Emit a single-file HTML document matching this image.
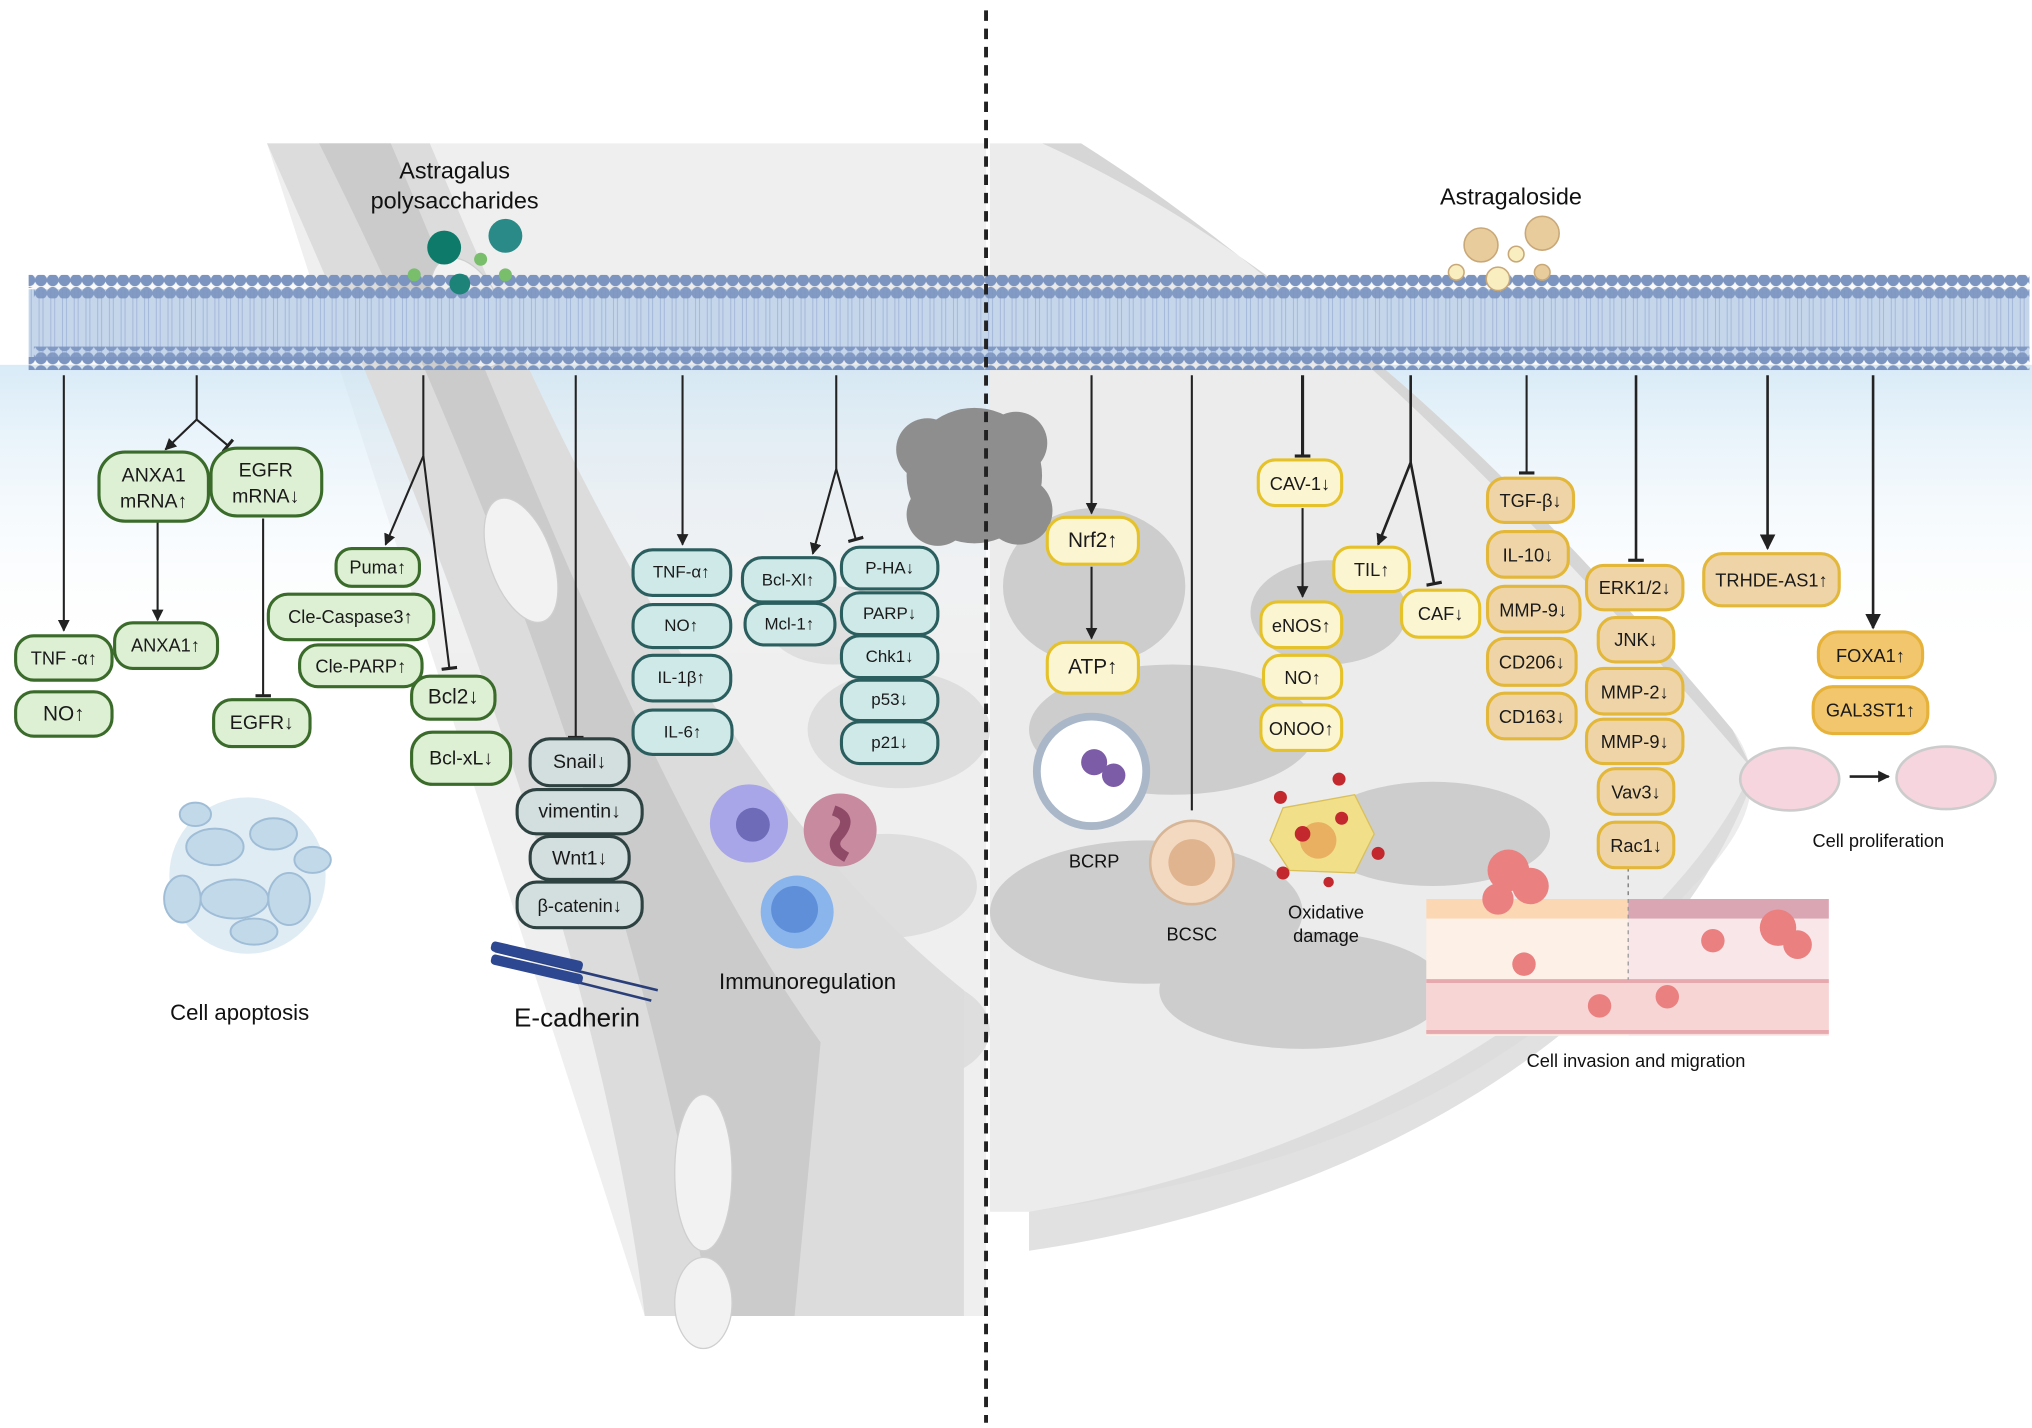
<!DOCTYPE html>
<html><head><meta charset="utf-8">
<style>
html,body{margin:0;padding:0;background:#fff;}
svg{display:block;}
text{font-family:"Liberation Sans",sans-serif;}
</style></head>
<body>
<svg width="2032" height="1428" viewBox="0 0 1560 1096" preserveAspectRatio="none" xmlns="http://www.w3.org/2000/svg">
<defs>
<linearGradient id="sky" x1="0" y1="0" x2="0" y2="1">
<stop offset="0" stop-color="#cfe6f5"/><stop offset="1" stop-color="#ffffff" stop-opacity="0"/>
</linearGradient>
<pattern id="beads" x="0" y="0" width="9" height="10" patternUnits="userSpaceOnUse">
<circle cx="4.5" cy="5" r="4.6" fill="#6f8bbd"/>
</pattern>
<pattern id="tails" x="0" y="0" width="9" height="30" patternUnits="userSpaceOnUse">
<rect width="9" height="30" fill="#c3d6ee"/>
<line x1="3" y1="0" x2="3" y2="30" stroke="#9fb6dc" stroke-width="0.8"/>
<line x1="6" y1="0" x2="6" y2="30" stroke="#9fb6dc" stroke-width="0.8"/>
</pattern>
<marker id="ar" viewBox="0 0 10 10" refX="9" refY="5" markerWidth="9" markerHeight="9" orient="auto" markerUnits="userSpaceOnUse">
<path d="M0,0 L10,5 L0,10 z" fill="#222"/></marker>
<marker id="ar2" viewBox="0 0 10 10" refX="9" refY="5" markerWidth="12" markerHeight="12" orient="auto" markerUnits="userSpaceOnUse">
<path d="M0,0 L10,5 L0,10 z" fill="#222"/></marker>
<marker id="tb" viewBox="0 0 10 10" refX="5" refY="5" markerWidth="12" markerHeight="12" orient="auto" markerUnits="userSpaceOnUse">
<line x1="5" y1="0" x2="5" y2="10" stroke="#222" stroke-width="2"/></marker>
</defs>

<!-- background tissue -->
<path d="M205,110 L757,110 L757,1010 L495,1010 Z" fill="#efefef"/>
<g fill="#dedede">
<ellipse cx="690" cy="560" rx="70" ry="45"/><ellipse cx="680" cy="680" rx="70" ry="40"/><ellipse cx="700" cy="790" rx="60" ry="40"/><ellipse cx="640" cy="480" rx="50" ry="30"/>
</g>
<rect x="0" y="280" width="1560" height="230" fill="url(#sky)" opacity="0.8"/>
<!-- right breast region -->
<path d="M800,110 C1000,200 1180,380 1330,560 C1360,600 1340,640 1300,680 C1160,840 1000,900 790,930 L760,930 L760,110 Z" fill="#ececec"/>
<path d="M800,110 C1000,200 1180,380 1330,560 L1345,590 C1200,420 1020,230 830,110 Z" fill="#d6d6d6"/>
<path d="M1345,590 C1300,700 1100,880 790,930 L790,960 C1060,920 1280,780 1345,600 Z" fill="#d9d9d9" opacity="0.8"/>
<g fill="#cdcdcd">
<ellipse cx="900" cy="560" rx="110" ry="50"/><ellipse cx="880" cy="700" rx="120" ry="55"/>
<ellipse cx="1000" cy="760" rx="110" ry="45"/><ellipse cx="1100" cy="640" rx="90" ry="40"/>
<ellipse cx="840" cy="450" rx="70" ry="60"/><ellipse cx="1020" cy="470" rx="60" ry="40"/>
</g>
<!-- left tissue band -->
<path d="M205,110 L330,110 C410,300 540,600 740,760 L740,1010 L495,1010 C470,800 380,500 205,110 Z" fill="#dcdcdc"/>
<path d="M245,110 L300,110 C390,320 500,620 630,800 L610,1010 L545,1010 C515,800 425,470 245,110 Z" fill="#cbcbcb"/>
<g fill="#f2f2f2" stroke="#cfcfcf">
<ellipse cx="400" cy="430" rx="24" ry="50" transform="rotate(-20 400 430)"/>
<ellipse cx="540" cy="900" rx="22" ry="60"/><ellipse cx="540" cy="1000" rx="22" ry="35"/>
<ellipse cx="360" cy="240" rx="25" ry="45" transform="rotate(-25 360 240)"/>
</g>
<!-- tumor blob -->
<g fill="#8e8e8e">
<circle cx="748" cy="365" r="52"/><circle cx="712" cy="345" r="24"/><circle cx="780" cy="340" r="24"/><circle cx="720" cy="395" r="24"/><circle cx="782" cy="392" r="26"/>
</g>

<!-- membrane -->
<rect x="22" y="222" width="1536" height="52" fill="url(#tails)"/>
<rect x="22" y="211" width="1536" height="10" fill="url(#beads)"/>
<rect x="26" y="219" width="1532" height="10" fill="url(#beads)" opacity="0.9"/>
<rect x="26" y="266" width="1532" height="10" fill="url(#beads)" opacity="0.9"/>
<rect x="22" y="274" width="1536" height="10" fill="url(#beads)"/>
<rect x="22" y="211" width="1536" height="73" fill="#d8d8d8" opacity="0.12"/>

<!-- dashed divider -->
<line x1="757" y1="8" x2="757" y2="1092" stroke="#222" stroke-width="3" stroke-dasharray="8,6"/>

<!-- ligand dots -->
<circle cx="341" cy="190" r="13" fill="#0e7a6a"/><circle cx="388" cy="181" r="13" fill="#2a8a88"/>
<circle cx="353" cy="218" r="8" fill="#1d8277"/><circle cx="318" cy="211" r="5" fill="#79be6b"/>
<circle cx="369" cy="199" r="5" fill="#79be6b"/><circle cx="388" cy="211" r="5" fill="#79be6b"/>
<g stroke="#c9a878" stroke-width="1.2">
<circle cx="1137" cy="188" r="13" fill="#e8cc9c"/><circle cx="1184" cy="179" r="13" fill="#e8cc9c"/>
<circle cx="1150" cy="214" r="9" fill="#f8eec0"/><circle cx="1118" cy="209" r="6" fill="#f8eec0"/>
<circle cx="1164" cy="195" r="6" fill="#f8eec0"/><circle cx="1184" cy="209" r="6" fill="#e8cc9c"/>
</g>

<!-- titles -->
<g font-size="18" fill="#111" text-anchor="middle">
<text x="349" y="137">Astragalus</text><text x="349" y="160">polysaccharides</text>
<text x="1160" y="157">Astragaloside</text>
<text x="184" y="783" font-size="17">Cell apoptosis</text>
<text x="443" y="788" font-size="20">E-cadherin</text>
<text x="620" y="759" font-size="17">Immunoregulation</text>
<text x="840" y="666" font-size="14">BCRP</text>
<text x="915" y="722" font-size="14">BCSC</text>
<text x="1018" y="705" font-size="14">Oxidative</text><text x="1018" y="723" font-size="14">damage</text>
<text x="1256" y="819" font-size="14">Cell invasion and migration</text>
<text x="1442" y="650" font-size="14">Cell proliferation</text>
</g>

<!-- connectors -->
<g stroke="#222" stroke-width="1.6" fill="none">
<line x1="49" y1="288" x2="49" y2="484" marker-end="url(#ar)"/>
<polyline points="151,288 151,322 127,345" marker-end="url(#ar)"/>
<polyline points="151,322 175,342" marker-end="url(#tb)"/>
<line x1="121" y1="400" x2="121" y2="476" marker-end="url(#ar)"/>
<line x1="202" y1="398" x2="202" y2="534" marker-end="url(#tb)"/>
<polyline points="325,288 325,350 296,418" marker-end="url(#ar)"/>
<polyline points="325,350 345,513" marker-end="url(#tb)"/>
<line x1="442" y1="288" x2="442" y2="566" marker-end="url(#tb)"/>
<line x1="524" y1="288" x2="524" y2="418" marker-end="url(#ar)"/>
<polyline points="642,288 642,360 624,425" marker-end="url(#ar)"/>
<polyline points="642,360 657,414" marker-end="url(#tb)"/>
<line x1="838" y1="288" x2="838" y2="394" marker-end="url(#ar)"/>
<line x1="838" y1="435" x2="838" y2="490" marker-end="url(#ar)"/>
<line x1="915" y1="288" x2="915" y2="622"/>
<line x1="1000" y1="288" x2="1000" y2="350" stroke-width="2.4" marker-end="url(#tb)"/>
<line x1="1000" y1="390" x2="1000" y2="458" marker-end="url(#ar)"/>
<polyline points="1083,288 1083,355 1058,418" stroke-width="2" marker-end="url(#ar)"/>
<polyline points="1083,355 1101,448" stroke-width="2" marker-end="url(#tb)"/>
<line x1="1172" y1="288" x2="1172" y2="363" marker-end="url(#tb)"/>
<line x1="1256" y1="288" x2="1256" y2="430" stroke-width="2" marker-end="url(#tb)"/>
<line x1="1357" y1="288" x2="1357" y2="421" stroke-width="2" marker-end="url(#ar2)"/>
<line x1="1438" y1="288" x2="1438" y2="482" stroke-width="2" marker-end="url(#ar2)"/>
<line x1="1250" y1="666" x2="1250" y2="760" stroke="#777" stroke-width="1" stroke-dasharray="3,3"/>
</g>

<!-- illustrations -->
<g opacity="0.85">
<g fill="#b8d3e6" stroke="#8fb2cf" stroke-width="1.5">
<circle cx="190" cy="672" r="60" fill="#dbe9f3" stroke="none"/>
<ellipse cx="165" cy="650" rx="22" ry="14"/><ellipse cx="210" cy="640" rx="18" ry="12"/>
<ellipse cx="180" cy="690" rx="26" ry="15"/><ellipse cx="222" cy="690" rx="16" ry="20"/>
<ellipse cx="140" cy="690" rx="14" ry="18"/><ellipse cx="195" cy="715" rx="18" ry="10"/>
<ellipse cx="240" cy="660" rx="14" ry="10"/><ellipse cx="150" cy="625" rx="12" ry="9"/>
</g></g>
<g>
<path d="M380,730 L505,760" stroke="#2a3f7a" stroke-width="2"/><path d="M380,738 L500,768" stroke="#2a3f7a" stroke-width="2"/>
<g fill="#2d4790"><rect x="378" y="722" width="72" height="8" rx="3" transform="rotate(13 378 722)"/><rect x="378" y="732" width="72" height="8" rx="3" transform="rotate(13 378 732)"/></g>
</g>
<circle cx="575" cy="632" r="30" fill="#a8a6e8"/><circle cx="578" cy="633" r="13" fill="#6e6bb8"/>
<circle cx="645" cy="637" r="28" fill="#c78a9e"/><path d="M640,622 q15,5 5,18 q-10,10 5,18" stroke="#8e4a66" stroke-width="8" fill="none"/>
<circle cx="612" cy="700" r="28" fill="#8ab4ec"/><circle cx="610" cy="698" r="18" fill="#5e8fd8"/>
<circle cx="838" cy="592" r="42" fill="#fff" stroke="#a9b7c9" stroke-width="6"/>
<circle cx="840" cy="585" r="10" fill="#7c5ca6"/><circle cx="855" cy="595" r="9" fill="#7c5ca6"/>
<circle cx="915" cy="662" r="32" fill="#f4d9c1" stroke="#d7b697" stroke-width="2"/><circle cx="915" cy="662" r="18" fill="#e0b48f"/>
<path d="M985,620 L1040,610 L1055,640 L1040,670 L990,668 L975,645 Z" fill="#f2df8a" stroke="#d9c05a"/>
<circle cx="1012" cy="645" r="14" fill="#e8b060"/>
<g fill="#c2282d"><circle cx="983" cy="612" r="5"/><circle cx="1028" cy="598" r="5"/><circle cx="1058" cy="655" r="5"/><circle cx="985" cy="670" r="5"/><circle cx="1020" cy="677" r="4"/><circle cx="1030" cy="628" r="5"/><circle cx="1000" cy="640" r="6"/></g>
<!-- invasion panel -->
<rect x="1095" y="690" width="155" height="105" fill="#fdf0e6"/>
<rect x="1250" y="690" width="154" height="105" fill="#f9e6e8"/>
<rect x="1095" y="690" width="155" height="15" fill="#fbd7b4"/>
<rect x="1250" y="690" width="154" height="15" fill="#dba6b4"/>
<rect x="1095" y="752" width="309" height="42" fill="#f7d5d5"/>
<line x1="1095" y1="753" x2="1404" y2="753" stroke="#e6a9ad" stroke-width="3"/>
<line x1="1095" y1="792" x2="1404" y2="792" stroke="#e6a9ad" stroke-width="3"/>
<line x1="1250" y1="690" x2="1250" y2="752" stroke="#999" stroke-dasharray="3,3"/>
<g fill="#ea8080"><circle cx="1158" cy="668" r="16"/><circle cx="1175" cy="680" r="14"/><circle cx="1150" cy="690" r="12"/><circle cx="1170" cy="740" r="9"/><circle cx="1228" cy="772" r="9"/><circle cx="1280" cy="765" r="9"/><circle cx="1315" cy="722" r="9"/><circle cx="1365" cy="712" r="14"/><circle cx="1380" cy="725" r="11"/></g>
<ellipse cx="1374" cy="598" rx="38" ry="24" fill="#f7d5de" stroke="#ccc" stroke-width="2"/>
<ellipse cx="1494" cy="597" rx="38" ry="24" fill="#f7d5de" stroke="#ccc" stroke-width="2"/>
<line x1="1420" y1="596" x2="1450" y2="596" stroke="#222" stroke-width="2" marker-end="url(#ar)"/>

<!-- boxes -->
<g font-size="14" text-anchor="middle" dominant-baseline="central" fill="#1a1a1a" stroke-width="2.4">
<g stroke="#3a6b2a">
<rect x="12" y="488" width="74" height="34" rx="14" fill="#ddf0d4"/>
<rect x="12" y="531" width="74" height="34" rx="14" fill="#ddf0d4"/>
<rect x="76" y="347" width="84" height="53" rx="20" fill="#ddf0d4"/>
<rect x="162" y="344" width="85" height="52" rx="20" fill="#ddf0d4"/>
<rect x="88" y="478" width="79" height="35" rx="14" fill="#ddf0d4"/>
<rect x="164" y="537" width="74" height="36" rx="14" fill="#ddf0d4"/>
<rect x="258" y="421" width="64" height="29" rx="12" fill="#ddf0d4"/>
<rect x="206" y="456" width="127" height="35" rx="15" fill="#ddf0d4"/>
<rect x="230" y="495" width="94" height="32" rx="14" fill="#ddf0d4"/>
<rect x="316" y="519" width="64" height="33" rx="14" fill="#ddf0d4"/>
<rect x="316" y="562" width="76" height="40" rx="16" fill="#ddf0d4"/>
</g>
<g stroke="none">
<text x="49" y="505">TNF -α↑</text><text x="49" y="548" font-size="16">NO↑</text>
<text x="118" y="365" font-size="15">ANXA1</text><text x="118" y="385" font-size="15">mRNA↑</text>
<text x="204" y="361" font-size="15">EGFR</text><text x="204" y="381" font-size="15">mRNA↓</text>
<text x="127" y="495">ANXA1↑</text><text x="201" y="555" font-size="15">EGFR↓</text>
<text x="290" y="435">Puma↑</text><text x="269" y="473">Cle-Caspase3↑</text>
<text x="277" y="511">Cle-PARP↑</text><text x="348" y="535" font-size="16">Bcl2↓</text>
<text x="354" y="582" font-size="15">Bcl-xL↓</text>
</g>
<g stroke="#2b5e5e">
<rect x="486" y="422" width="75" height="35" rx="15" fill="#cfe9e8"/>
<rect x="486" y="464" width="75" height="33" rx="15" fill="#cfe9e8"/>
<rect x="486" y="503" width="75" height="35" rx="15" fill="#cfe9e8"/>
<rect x="486" y="545" width="76" height="34" rx="15" fill="#cfe9e8"/>
<rect x="570" y="428" width="71" height="34" rx="15" fill="#cfe9e8"/>
<rect x="572" y="463" width="69" height="32" rx="15" fill="#cfe9e8"/>
<rect x="646" y="420" width="74" height="32" rx="14" fill="#cfe9e8"/>
<rect x="646" y="455" width="74" height="32" rx="14" fill="#cfe9e8"/>
<rect x="646" y="488" width="74" height="32" rx="14" fill="#cfe9e8"/>
<rect x="646" y="522" width="74" height="31" rx="14" fill="#cfe9e8"/>
<rect x="646" y="554" width="74" height="32" rx="14" fill="#cfe9e8"/>
</g>
<g stroke="none" font-size="13">
<text x="523" y="439">TNF-α↑</text><text x="523" y="480">NO↑</text><text x="523" y="520">IL-1β↑</text><text x="524" y="562">IL-6↑</text>
<text x="605" y="445">Bcl-Xl↑</text><text x="606" y="479">Mcl-1↑</text>
<text x="683" y="436">P-HA↓</text><text x="683" y="471">PARP↓</text><text x="683" y="504">Chk1↓</text><text x="683" y="537">p53↓</text><text x="683" y="570">p21↓</text>
</g>
<g stroke="#2f4242">
<rect x="407" y="567" width="76" height="36" rx="15" fill="#d2dfde"/>
<rect x="397" y="606" width="96" height="34" rx="15" fill="#d2dfde"/>
<rect x="407" y="642" width="76" height="33" rx="15" fill="#d2dfde"/>
<rect x="397" y="677" width="96" height="35" rx="15" fill="#d2dfde"/>
</g>
<g stroke="none" font-size="15">
<text x="445" y="585">Snail↓</text><text x="445" y="623">vimentin↓</text><text x="445" y="659">Wnt1↓</text><text x="445" y="695" font-size="14">β-catenin↓</text>
</g>
<g stroke="#e6c22a">
<rect x="804" y="397" width="70" height="36" rx="14" fill="#fcf5d2"/>
<rect x="804" y="493" width="70" height="39" rx="14" fill="#fcf5d2"/>
<rect x="966" y="353" width="64" height="35" rx="13" fill="#fcf5d2"/>
<rect x="968" y="462" width="62" height="35" rx="13" fill="#fcf5d2"/>
<rect x="970" y="503" width="60" height="33" rx="13" fill="#fcf5d2"/>
<rect x="968" y="541" width="62" height="35" rx="13" fill="#fcf5d2"/>
<rect x="1024" y="420" width="58" height="34" rx="13" fill="#fcf5d2"/>
<rect x="1076" y="453" width="60" height="36" rx="13" fill="#fcf5d2"/>
</g>
<g stroke="none">
<text x="839" y="415" font-size="16">Nrf2↑</text><text x="839" y="512" font-size="16">ATP↑</text>
<text x="998" y="371">CAV-1↓</text><text x="999" y="480">eNOS↑</text><text x="1000" y="520">NO↑</text><text x="999" y="559">ONOO↑</text>
<text x="1053" y="437">TIL↑</text><text x="1106" y="471">CAF↓</text>
</g>
<g stroke="#e3b73a">
<rect x="1142" y="367" width="66" height="34" rx="13" fill="#efd4a8"/>
<rect x="1142" y="408" width="62" height="35" rx="13" fill="#efd4a8"/>
<rect x="1142" y="450" width="71" height="35" rx="13" fill="#efd4a8"/>
<rect x="1142" y="490" width="68" height="36" rx="13" fill="#efd4a8"/>
<rect x="1142" y="532" width="68" height="35" rx="13" fill="#efd4a8"/>
<rect x="1218" y="434" width="74" height="34" rx="13" fill="#efd4a8"/>
<rect x="1227" y="474" width="58" height="34" rx="13" fill="#efd4a8"/>
<rect x="1218" y="513" width="74" height="35" rx="13" fill="#efd4a8"/>
<rect x="1218" y="552" width="74" height="34" rx="13" fill="#efd4a8"/>
<rect x="1227" y="590" width="58" height="35" rx="13" fill="#efd4a8"/>
<rect x="1227" y="631" width="58" height="35" rx="13" fill="#efd4a8"/>
<rect x="1308" y="425" width="104" height="40" rx="14" fill="#efd4a8"/>
</g>
<g stroke="none">
<text x="1175" y="384">TGF-β↓</text><text x="1173" y="426">IL-10↓</text><text x="1177" y="468">MMP-9↓</text>
<text x="1176" y="508">CD206↓</text><text x="1176" y="550">CD163↓</text>
<text x="1255" y="451">ERK1/2↓</text><text x="1256" y="491">JNK↓</text><text x="1255" y="531">MMP-2↓</text><text x="1255" y="569">MMP-9↓</text>
<text x="1256" y="608">Vav3↓</text><text x="1256" y="649">Rac1↓</text><text x="1360" y="445">TRHDE-AS1↑</text>
</g>
<g stroke="#e6b23a">
<rect x="1396" y="485" width="80" height="35" rx="15" fill="#f2c66c"/>
<rect x="1392" y="527" width="88" height="36" rx="15" fill="#f2c66c"/>
</g>
<g stroke="none">
<text x="1436" y="503">FOXA1↑</text><text x="1436" y="545">GAL3ST1↑</text>
</g>
</g>
</svg>
</body></html>
